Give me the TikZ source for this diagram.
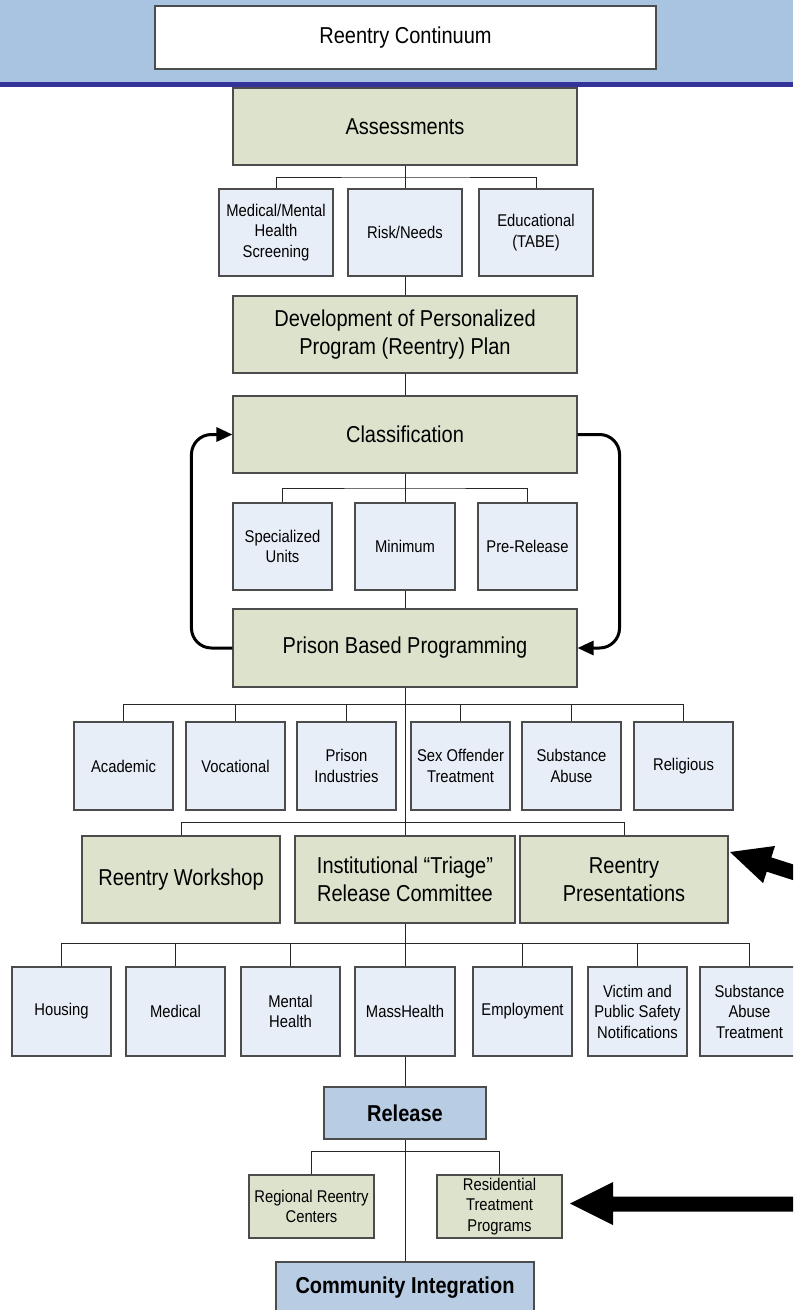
\documentclass[tikz,border=0pt]{standalone}
\usepackage{fontspec}
\setmainfont{Liberation Sans}[FakeStretch=0.87]
\usetikzlibrary{arrows.meta}
\definecolor{grn}{HTML}{DDE2CC}
\definecolor{lblue}{HTML}{E8EEF8}
\definecolor{relblue}{HTML}{B8CCE4}
\definecolor{hdr}{HTML}{A9C4E0}
\definecolor{hdrline}{HTML}{333399}
\begin{document}
\begin{tikzpicture}[x=1pt,y=-1pt,
  bx/.style={draw=black!70, line width=1.1pt, inner sep=0pt, align=center, text=black},
  bxbig/.style={bx, fill=grn, font=\fontsize{23}{28}\selectfont},
  bxsm/.style={bx, fill=lblue, font=\fontsize{17}{20.5}\selectfont, minimum width=99pt, minimum height=88pt},
  bxsg/.style={bx, fill=grn, font=\fontsize{17}{20.5}\selectfont, minimum width=125pt, minimum height=63pt},
  bxrel/.style={bx, fill=relblue, font=\bfseries\fontsize{23}{28}\selectfont},
  conn/.style={draw=black!85, line width=0.9pt},
  cyc/.style={draw=black, line width=3pt, rounded corners=20pt, -{Triangle[length=16pt,width=14pt]}},
]
\useasboundingbox (0,0) rectangle (793,1310);
\clip (0,0) rectangle (793,1310);
% header
\fill[hdr] (0,0) rectangle (793,82);
\fill[hdrline] (0,82) rectangle (793,87);
\node[bx, fill=white, minimum width=501pt, minimum height=63pt, font=\fontsize{23}{28}\selectfont] (title) at (405.5,37.5) {Reentry Continuum};

% main column
\node[bxbig, minimum width=344pt, minimum height=77pt] (assess) at (405,126.5) {Assessments};
\node[bxsm, minimum width=114pt, minimum height=87pt] (medscr) at (276,232.5) {Medical/Mental\\Health\\Screening};
\node[bxsm, minimum width=114pt, minimum height=87pt] (risk) at (405,232.5) {Risk/Needs};
\node[bxsm, minimum width=114pt, minimum height=87pt] (tabe) at (536,232.5) {Educational\\(TABE)};
\node[bxbig, minimum width=344pt, minimum height=77pt] (plan) at (405,334.5) {Development of Personalized\\Program (Reentry) Plan};
\node[bxbig, minimum width=344pt, minimum height=77pt] (class) at (405,434.5) {Classification};
\node[bxsm, minimum height=87pt] (spec) at (282.5,546.5) {Specialized\\Units};
\node[bxsm, minimum width=100pt, minimum height=87pt] (min) at (405,546.5) {Minimum};
\node[bxsm, minimum height=87pt] (pre) at (527.5,546.5) {Pre-Release};
\node[bxbig, minimum width=344pt, minimum height=78pt] (pbp) at (405,648) {Prison Based Programming};

% programming row
\node[bxsm] (acad) at (123.5,766) {Academic};
\node[bxsm] (voc) at (235.5,766) {Vocational};
\node[bxsm] (ind) at (346.5,766) {Prison\\Industries};
\node[bxsm] (sex) at (460.5,766) {Sex Offender\\Treatment};
\node[bxsm] (subst) at (571.5,766) {Substance\\Abuse};
\node[bxsm] (relig) at (683.5,766) {Religious};

% release planning row
\node[bxbig, minimum width=198pt, minimum height=87pt] (wksp) at (181,879.5) {Reentry Workshop};
\node[bxbig, minimum width=220pt, minimum height=87pt] (triage) at (405,879.5) {Institutional “Triage”\\Release Committee};
\node[bxbig, minimum width=208pt, minimum height=87pt] (pres) at (624,879.5) {Reentry\\Presentations};

% services row
\node[bxsm, minimum height=89pt] (house) at (61.5,1011.5) {Housing};
\node[bxsm, minimum height=89pt] (medi) at (175.5,1011.5) {Medical};
\node[bxsm, minimum height=89pt] (mh) at (290.5,1011.5) {Mental\\Health};
\node[bxsm, minimum width=100pt, minimum height=89pt] (mass) at (405,1011.5) {MassHealth};
\node[bxsm, minimum height=89pt] (emp) at (522.5,1011.5) {Employment};
\node[bxsm, minimum height=89pt] (vic) at (637.5,1011.5) {Victim and\\Public Safety\\Notifications};
\node[bxsm, minimum height=89pt] (sat) at (749.5,1011.5) {Substance\\Abuse\\Treatment};

% release
\node[bxrel, minimum width=162pt, minimum height=52pt] (release) at (405,1113) {Release};
\node[bxsg] (regional) at (311.5,1206.5) {Regional Reentry\\Centers};
\node[bxsg] (resid) at (499.5,1206.5) {Residential\\Treatment\\Programs};
\node[bxrel, minimum width=258pt, minimum height=52pt] (comm) at (405,1288) {Community Integration};

% connectors
\coordinate (b1) at (405,177);
\draw[conn] (assess.south) -- (risk.north);
\draw[conn] (medscr.north) |- (b1) -| (tabe.north);
\draw[conn] (risk.south) -- (plan.north);
\draw[conn] (plan.south) -- (class.north);
\coordinate (b2) at (405,488);
\draw[conn] (class.south) -- (min.north);
\draw[conn] (spec.north) |- (b2) -| (pre.north);
\draw[conn] (min.south) -- (pbp.north);
\coordinate (b3) at (405,704);
\coordinate (b4) at (405,822);
\draw[conn] (pbp.south) -- (triage.north);
\draw[conn] (acad.north) |- (b3) -| (relig.north);
\foreach \n in {voc,ind,sex,subst} \draw[conn] (\n.north) -- (\n.north |- b3);
\draw[conn] (wksp.north) |- (b4) -| (pres.north);
\coordinate (b5) at (405,943);
\draw[conn] (triage.south) -- (mass.north);
\draw[conn] (house.north) |- (b5) -| (sat.north);
\foreach \n in {medi,mh,emp,vic} \draw[conn] (\n.north) -- (\n.north |- b5);
\draw[conn] (mass.south) -- (release.north);
\coordinate (b6) at (405,1151);
\draw[conn] (release.south) -- (comm.north);
\draw[conn] (regional.north) |- (b6) -| (resid.north);

% loop arrows
\draw[cyc] (pbp.west) -- ++(-41,0) |- (class.west);
\draw[cyc] (class.east) -- ++(42,0) |- (pbp.east);

% big pointer arrows
\begin{scope}[shift={(730,852)}, rotate=-17.8]
\fill[black] (0,0) -- (41,-19.5) -- (41,-7.5) -- (130,-7.5) -- (130,7.5) -- (41,7.5) -- (41,19.5) -- cycle;
\end{scope}
\fill[black] (570,1203.5) -- (613,1182) -- (613,1196.5) -- (800,1196.5) -- (800,1211.5) -- (613,1211.5) -- (613,1225) -- cycle;
\end{tikzpicture}
\end{document}
